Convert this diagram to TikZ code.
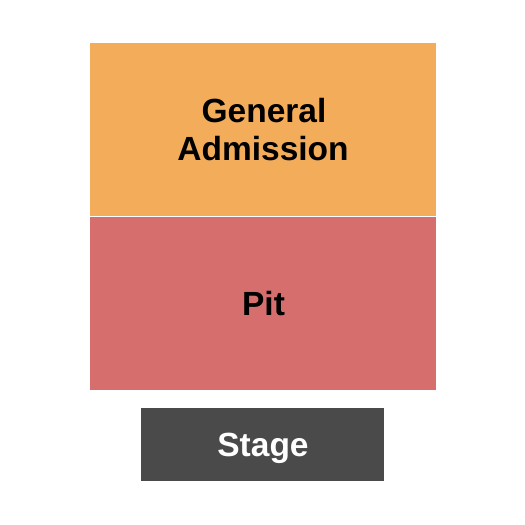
\documentclass[tikz,border=0pt]{standalone}
\usepackage{fontspec}
\setmainfont{Liberation Sans}
\definecolor{gacol}{HTML}{F3AC5A}
\definecolor{pitcol}{HTML}{D76E6E}
\definecolor{stagecol}{HTML}{4A4A4A}
\begin{document}
\begin{tikzpicture}[x=1pt,y=-1pt,
  area/.style={draw=none,inner sep=0pt,outer sep=0pt,anchor=north west},
  lbl/.style={inner sep=0pt,anchor=base,font=\fontsize{33.5}{38}\selectfont\bfseries,align=center}]
\useasboundingbox (0,0) rectangle (525,525);
\node[area,fill=gacol,minimum width=346pt,minimum height=172.5pt] (ga) at (90,43) {};
\node[area,fill=pitcol,minimum width=346pt,minimum height=173pt] (pit) at (90,216.5) {};
\node[area,fill=stagecol,minimum width=243pt,minimum height=73pt] (stage) at (141,408) {};
\node[lbl] (galbl1) at (264,122.5) {General};
\node[lbl] (galbl2) at (263,160) {Admission};
\node[lbl] (pitlbl) at (263.5,315) {Pit};
\node[lbl,text=white] (stagelbl) at (263,456.5) {Stage};
\end{tikzpicture}
\end{document}
